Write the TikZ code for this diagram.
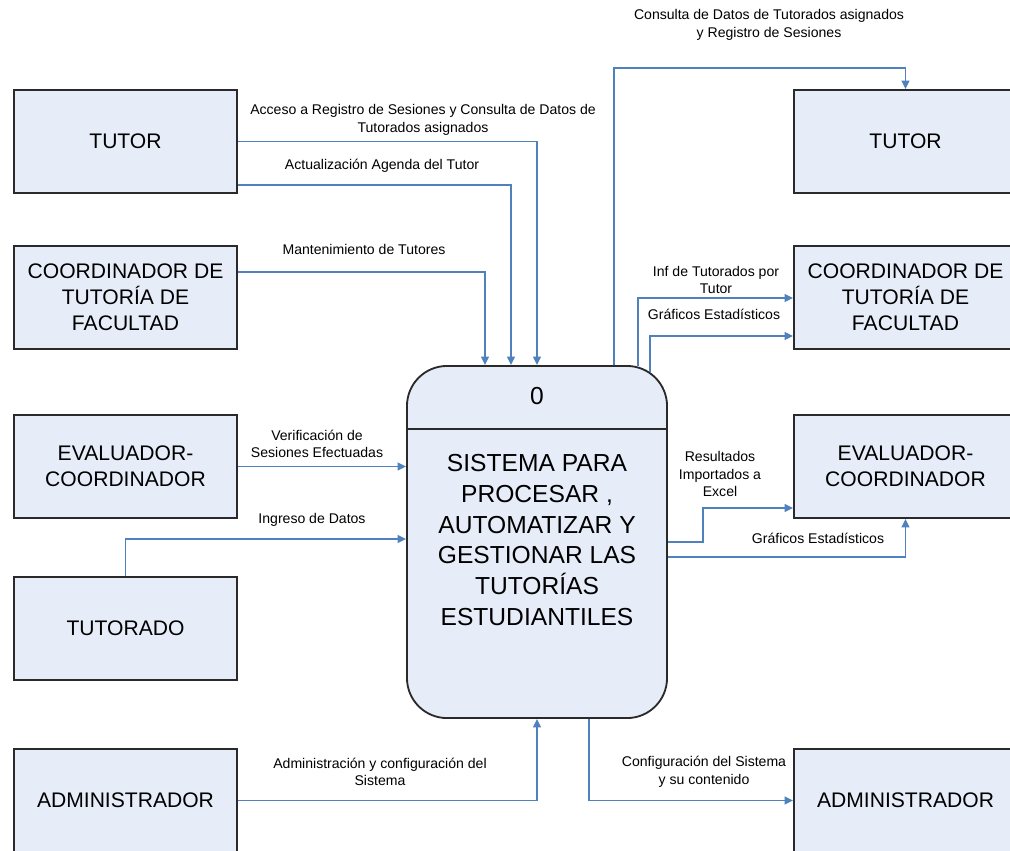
\documentclass[tikz,border=0pt]{standalone}
\usepackage{fontspec}
\setmainfont{Liberation Sans}
\usetikzlibrary{calc,arrows.meta}

\definecolor{boxfill}{HTML}{E6EDF8}
\definecolor{boxline}{HTML}{2A2A2A}
\definecolor{flowblue}{HTML}{4F81BD}

\tikzset{
  entity/.style={draw=boxline, line width=1.3pt, fill=boxfill, rectangle,
    minimum width=5.575cm, minimum height=2.575cm, inner sep=0pt, align=center,
    font=\fontsize{15}{18.5}\selectfont},
  process/.style={draw=boxline, line width=1.3pt, fill=boxfill, rectangle,
    rounded corners=1cm, minimum width=6.5cm, minimum height=8.8cm, inner sep=0pt},
  proctext/.style={align=center, font=\fontsize{17.5}{22}\selectfont},
  flow/.style={draw=flowblue, line width=1.1pt,
    -{Triangle[length=6pt,width=5.5pt]}},
  flowlabel/.style={align=center, inner sep=0pt, font=\fontsize{10}{12.5}\selectfont}
}

\begin{document}
\begin{tikzpicture}[x=0.025cm, y=-0.025cm]
  \clip (0,0) rectangle (1010,850);
  \fill[white] (0,0) rectangle (1010,850);

  % external entities, left column
  \node[entity] (tutL)   at (125.5,141.5) {TUTOR};
  \node[entity] (coordL) at (125.5,297.5) {COORDINADOR DE\\TUTORÍA DE\\FACULTAD};
  \node[entity] (evalL)  at (125.5,466.5) {EVALUADOR-\\COORDINADOR};
  \node[entity] (tdo)    at (125.5,628.5) {TUTORADO};
  \node[entity] (admL)   at (125.5,800.5) {ADMINISTRADOR};

  % external entities, right column
  \node[entity] (tutR)   at (905.5,141.5) {TUTOR};
  \node[entity] (coordR) at (905.5,297.5) {COORDINADOR DE\\TUTORÍA DE\\FACULTAD};
  \node[entity] (evalR)  at (905.5,466.5) {EVALUADOR-\\COORDINADOR};
  \node[entity] (admR)   at (905.5,800.5) {ADMINISTRADOR};

  % process 0
  \node[process] (proc) at (537,542) {};
  \draw[boxline, line width=1.3pt]
    ($(proc.north west)+(0,64)$) coordinate (divl) -- (divl -| proc.east);
  \node[proctext] (pnum) at (537,396) {0};
  \node[proctext] (pname) at (537,540)
    {SISTEMA PARA\\PROCESAR ,\\AUTOMATIZAR Y\\GESTIONAR LAS\\TUTORÍAS\\ESTUDIANTILES};

  % data flows into the process
  \draw[flow] (tutL.east) -| (proc.north);
  \draw[flow] ($(tutL.east)+(0,43.5)$) -| ($(proc.north)+(-26,0)$);
  \draw[flow] ($(coordL.east)+(0,-25.5)$) -| ($(proc.north)+(-52,0)$);
  \draw[flow] (evalL.east) -- (evalL.east -| proc.west);
  \draw[flow] (tdo.north) |- ($(proc.west)+(0,-3)$);
  \draw[flow] (admL.east) -| (proc.south);

  % data flows out of the process
  \draw[flow] ($(proc.north)+(77,0)$) |- ($(tutR.north)+(0,-21)$) -- (tutR.north);
  \draw[flow] ($(proc.north east)+(-30,1.3)$) |- ($(coordR.west)+(0,0.5)$);
  \draw[flow] ($(proc.north east)+(-18,6.6)$) |- ($(coordR.west)+(0,38.5)$);
  \draw[flow] (proc.east) -| ($(evalR.west)+(-90,41.5)$) -- ($(evalR.west)+(0,41.5)$);
  \draw[flow] ($(proc.east)+(0,15)$) -| (evalR.south);
  \draw[flow] ($(proc.south)+(52,0)$) |- (admR.west);

  % flow labels
  \node[flowlabel] (l1) at (423,120) {Acceso a Registro de Sesiones y Consulta de Datos de\\Tutorados asignados};
  \node[flowlabel] (l2) at (382,166) {Actualización Agenda del Tutor};
  \node[flowlabel] (l3) at (364,249) {Mantenimiento de Tutores};
  \node[flowlabel] (l4) at (317,444) {Verificación de\\Sesiones Efectuadas};
  \node[flowlabel] (l5) at (312,520) {Ingreso de Datos};
  \node[flowlabel] (l6) at (380,772) {Administración y configuración del\\Sistema};
  \node[flowlabel] (l7) at (704,772) {Configuración del Sistema\\y su contenido};
  \node[flowlabel] (l8) at (769,25) {Consulta de Datos de Tutorados asignados\\y Registro de Sesiones};
  \node[flowlabel] (l9) at (716,280) {Inf de Tutorados por\\Tutor};
  \node[flowlabel] (l10) at (714,314) {Gráficos Estadísticos};
  \node[flowlabel] (l11) at (720,474) {Resultados\\Importados a\\Excel};
  \node[flowlabel] (l12) at (818,538) {Gráficos Estadísticos};
\end{tikzpicture}
\end{document}
